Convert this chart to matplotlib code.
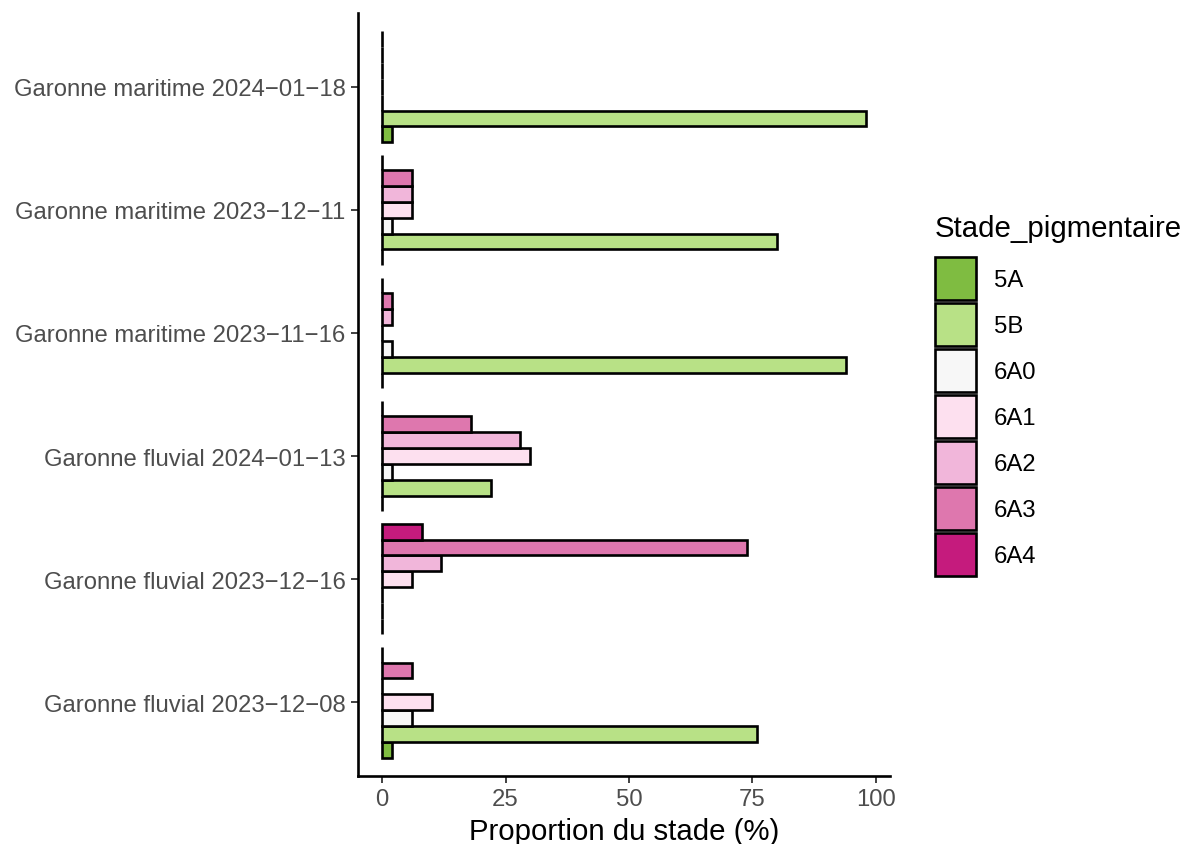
import matplotlib
matplotlib.use("Agg")
import matplotlib.pyplot as plt
from matplotlib.patches import Patch
import numpy as np

plt.rcParams['font.family'] = ['Liberation Sans', 'DejaVu Sans']

groups = ["Garonne fluvial 2023\u221212\u221208",
          "Garonne fluvial 2023\u221212\u221216",
          "Garonne fluvial 2024\u221201\u221213",
          "Garonne maritime 2023\u221211\u221216",
          "Garonne maritime 2023\u221212\u221211",
          "Garonne maritime 2024\u221201\u221218"]
stages = ["5A", "5B", "6A0", "6A1", "6A2", "6A3", "6A4"]
colors = ["#7FBC41", "#B8E186", "#F7F7F7", "#FDE0EF", "#F1B6DA", "#DE77AE", "#C51B7D"]

# values per stage, one per group (same order as groups)
v_5A  = [2, 0, 0, 0, 0, 2]
v_5B  = [76, 0, 22, 94, 80, 98]
v_6A0 = [6, 0, 2, 2, 2, 0]
v_6A1 = [10, 6, 30, 0, 6, 0]
v_6A2 = [0, 12, 28, 2, 6, 0]
v_6A3 = [6, 74, 18, 2, 6, 0]
v_6A4 = [0, 8, 0, 0, 0, 0]
values = [v_5A, v_5B, v_6A0, v_6A1, v_6A2, v_6A3, v_6A4]

W, H = 1181, 845
fig = plt.figure(figsize=(W / 100, H / 100), dpi=100)
ax = fig.add_axes([358 / W, 1 - 777 / H, (890 - 358) / W, (777 - 14) / H])

n = len(stages)
total = 0.9
bw = total / n
ypos = np.arange(1, len(groups) + 1)
for i, (st, vals, c) in enumerate(zip(stages, values, colors)):
    offs = -total / 2 + bw * (i + 0.5)
    ax.barh(ypos + offs, vals, height=bw, color=c, edgecolor="black",
            linewidth=1.9, label=st)

ax.set_xlim(-4.9, 102.9)
ax.set_ylim(0.4, 6.6)
ax.set_yticks(ypos)
ax.set_yticklabels(groups)
ax.set_xticks([0, 25, 50, 75, 100])
ax.set_xticklabels(["0", "25", "50", "75", "100"])
ax.tick_params(axis='both', labelsize=17.2, labelcolor="#4D4D4D", length=5,
               width=1.3, color="#333333", pad=4)
for s in ["top", "right"]:
    ax.spines[s].set_visible(False)
for s in ["left", "bottom"]:
    ax.spines[s].set_linewidth(1.9)
ax.set_xlabel("Proportion du stade (%)", fontsize=21.2, labelpad=5)

handles = [Patch(facecolor=c, edgecolor="black", linewidth=1.9, label=s)
           for s, c in zip(stages, colors)]
fs = 17.2
px = fs * 100 / 72
hh = (43 / px - 0.245) / 0.65
leg = fig.legend(handles=handles, loc="upper left", bbox_to_anchor=(930 / W, 1 - 210 / H),
                 title="Stade_pigmentaire", fontsize=fs, title_fontsize=21.2,
                 frameon=False, handlelength=41 / px, handleheight=hh,
                 labelspacing=3 / px, handletextpad=18 / px, borderaxespad=0,
                 borderpad=0.2)
leg._legend_box.align = "left"
leg._legend_box.sep = 15 * 0.72

fig.savefig("out.png", dpi=100)
